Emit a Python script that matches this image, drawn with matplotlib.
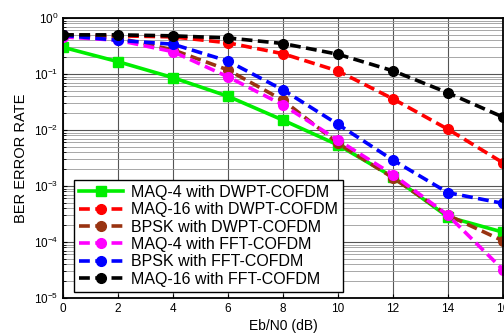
import matplotlib
matplotlib.use("Agg")
import matplotlib.pyplot as plt
import numpy as np

plt.rcParams["font.family"] = ["Liberation Sans", "DejaVu Sans"]

snr_db = [0, 2, 4, 6, 8, 10, 12, 14, 16]

maq4_dwpt = [0.30, 0.166, 0.086, 0.040, 0.015, 0.0054, 0.00145, 2.8e-4, 1.5e-4]
maq16_dwpt = [0.49, 0.48, 0.46, 0.36, 0.23, 0.113, 0.036, 0.0103, 0.0026]
bpsk_dwpt = [0.48, 0.44, 0.27, 0.118, 0.034, 0.0058, 0.0014, 3.0e-4, 1.05e-4]
maq4_fft = [0.46, 0.40, 0.25, 0.089, 0.028, 0.0066, 0.0016, 3.0e-4, 3.2e-5]
bpsk_fft = [0.49, 0.40, 0.34, 0.17, 0.052, 0.0126, 0.0029, 7.6e-4, 4.9e-4]
maq16_fft = [0.50, 0.50, 0.48, 0.44, 0.35, 0.225, 0.114, 0.046, 0.017]

series = [
    ("MAQ-4 with DWPT-COFDM", maq4_dwpt, "#00ee00", "-", "s"),
    ("MAQ-16 with DWPT-COFDM", maq16_dwpt, "#ff0000", "--", "o"),
    ("BPSK with DWPT-COFDM", bpsk_dwpt, "#993311", "--", "o"),
    ("MAQ-4 with FFT-COFDM", maq4_fft, "#ff00ff", "--", "o"),
    ("BPSK with FFT-COFDM", bpsk_fft, "#0000ff", "--", "o"),
    ("MAQ-16 with FFT-COFDM", maq16_fft, "#000000", "--", "o"),
]

fig = plt.figure(figsize=(5.04, 3.33), dpi=100)
ax = fig.add_axes([0.125, 0.105, 0.873, 0.841])

for name, vals, col, ls, mk in series:
    ax.semilogy(snr_db, vals, color=col, linestyle=ls, marker=mk, lw=2.6,
                markersize=7, dashes=(3, 1.5) if ls == "--" else (None, None),
                label=name)

ax.set_xlim(0, 16)
ax.set_ylim(1e-5, 1)
ax.set_xticks(range(0, 17, 2))
ax.grid(True, which="major", color="#555555", lw=0.8)
ax.grid(True, which="minor", axis="y", color="#999999", lw=0.6)
ax.tick_params(labelsize=8.5, direction="in", length=3)
ax.tick_params(which="minor", direction="in", length=2)
for s in ax.spines.values():
    s.set_linewidth(1.3)

ax.set_xlabel("Eb/N0 (dB)", fontsize=10, labelpad=3)
ax.set_ylabel("BER ERROR RATE", fontsize=10.5, labelpad=4)

leg = ax.legend(loc="lower left", fontsize=11.5, fancybox=False, framealpha=1,
                edgecolor="black", borderaxespad=0.4, handlelength=2.8,
                labelspacing=0.15, borderpad=0.3, handletextpad=0.5,
                bbox_to_anchor=(0.01, 0.0))
leg.get_frame().set_linewidth(1.0)

fig.savefig("out.png", dpi=100)
